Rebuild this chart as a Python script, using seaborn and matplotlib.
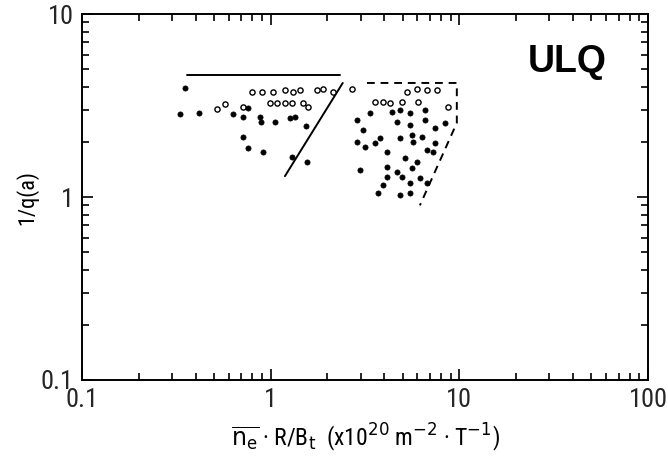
import matplotlib
matplotlib.use("Agg")
import matplotlib.pyplot as plt
import seaborn as sns
import pandas as pd
from matplotlib.ticker import LogLocator, FixedLocator, FixedFormatter, NullFormatter

sns.set_theme(style="white")
FAM = ['Liberation Sans Narrow', 'DejaVu Sans Condensed', 'Roboto Condensed', 'DejaVu Sans']
plt.rcParams['font.family'] = FAM
plt.rcParams['mathtext.fontset'] = 'custom'
plt.rcParams['mathtext.rm'] = 'Liberation Sans Narrow'
plt.rcParams['mathtext.it'] = 'Liberation Sans Narrow'

# open circles
open_x = [0.519, 0.573, 0.796, 0.899, 1.03, 1.19, 1.31, 1.43, 1.76, 1.89, 0.992, 1.08,
          1.19, 1.30, 1.48, 1.58, 0.713, 2.14, 2.70, 5.27, 5.96, 6.73, 7.61, 3.57, 3.94,
          4.29, 4.96, 6.04, 8.70]
open_y = [3.03, 3.22, 3.74, 3.74, 3.74, 3.84, 3.74, 3.84, 3.84, 3.89, 3.26, 3.26,
          3.26, 3.26, 3.26, 3.10, 3.10, 3.74, 3.89, 3.74, 3.89, 3.84, 3.84, 3.30, 3.30,
          3.26, 3.30, 3.30, 3.10]
# filled dots
fill_x = [0.351, 0.330, 0.417, 0.631, 0.758, 0.713, 0.877, 0.888, 1.05, 1.27, 1.34, 1.54,
          0.713, 0.758, 0.91, 1.30, 1.56,
          4.40, 5.47, 4.84, 6.58, 2.87, 3.36, 3.08, 4.67, 5.47, 6.58, 7.43, 8.39,
          2.87, 3.16, 3.57, 3.80, 4.84, 5.61, 5.68, 6.34, 7.43, 4.13, 6.73, 7.24,
          2.97, 4.13, 5.15, 5.96, 4.67, 4.96, 5.61, 6.18, 6.73, 3.94, 3.70, 4.84,
          5.47, 5.47, 4.13]
fill_y = [3.94, 2.84, 2.88, 2.84, 3.07, 2.74, 2.74, 2.57, 2.57, 2.70, 2.74, 2.44,
          2.13, 1.85, 1.76, 1.66, 1.55,
          2.91, 2.88, 2.99, 2.99, 2.64, 2.88, 2.32, 2.57, 2.47, 2.64, 2.38, 2.54,
          2.00, 1.88, 1.97, 2.10, 2.10, 2.18, 2.00, 2.13, 1.97, 1.76, 1.81, 1.76,
          1.41, 1.46, 1.63, 1.55, 1.37, 1.29, 1.44, 1.27, 1.19, 1.16, 1.05, 1.03,
          1.05, 1.19, 1.29]

# boundary lines
solid_top_x = [0.36, 2.33]
solid_top_y = [4.64, 4.64]
solid_diag_x = [1.19, 2.41]
solid_diag_y = [1.30, 4.20]
dash_x = [3.24, 9.7, 9.7, 6.18]
dash_y = [4.20, 4.20, 2.54, 0.90]

x_ticks = [0.1, 1, 10, 100]
x_labels = ["0.1", "1", "10", "100"]
y_ticks = [0.1, 1, 10]
y_labels = ["0.1", "1", "10"]

fig = plt.figure(figsize=(6.68, 4.67), dpi=100)
ax = fig.add_axes([0.1228, 0.1863, 0.8472, 0.7837])

df_open = pd.DataFrame({"x": open_x, "y": open_y})
df_fill = pd.DataFrame({"x": fill_x, "y": fill_y})

sns.scatterplot(data=df_open, x="x", y="y", ax=ax, marker="o", s=14,
                facecolor="white", edgecolor="black", linewidth=1.0, zorder=3)
sns.scatterplot(data=df_fill, x="x", y="y", ax=ax, marker="o", s=14,
                color="black", edgecolor="black", linewidth=0.5, zorder=3)

sns.lineplot(x=solid_top_x, y=solid_top_y, ax=ax, color="black", lw=1.4, sort=False, estimator=None)
sns.lineplot(x=solid_diag_x, y=solid_diag_y, ax=ax, color="black", lw=1.4, sort=False, estimator=None)
sns.lineplot(x=dash_x, y=dash_y, ax=ax, color="black", lw=1.4, sort=False, estimator=None,
             linestyle=(0, (4, 3)))

ax.set_xscale("log")
ax.set_yscale("log")
ax.set_xlim(0.1, 100)
ax.set_ylim(0.1, 10)

ax.xaxis.set_major_locator(FixedLocator(x_ticks))
ax.xaxis.set_major_formatter(FixedFormatter(x_labels))
ax.yaxis.set_major_locator(FixedLocator(y_ticks))
ax.yaxis.set_major_formatter(FixedFormatter(y_labels))
ax.xaxis.set_minor_locator(LogLocator(base=10, subs=range(2, 10)))
ax.yaxis.set_minor_locator(LogLocator(base=10, subs=range(2, 10)))
ax.xaxis.set_minor_formatter(NullFormatter())
ax.yaxis.set_minor_formatter(NullFormatter())

ax.tick_params(which="both", direction="in", top=True, right=True, bottom=True, left=True,
               color="black", width=1.2)
ax.tick_params(which="major", length=8, labelsize=19, pad=6)
ax.tick_params(which="minor", length=5)
for sp in ax.spines.values():
    sp.set_color("black")
    sp.set_linewidth(1.4)

ax.set_xlabel(r"$\overline{\mathrm{n_e}}$ · R/B$_\mathrm{t}$  (x10$^{20}$ m$^{-2}$ · T$^{-1}$)",
              fontsize=17, color="black", labelpad=7)
ax.set_ylabel("1/q(a)", fontsize=16, color="black")
ax.yaxis.set_label_coords(-0.078, 0.5)

ax.text(0.857, 0.869, "ULQ", transform=ax.transAxes, ha="center", va="center",
        fontsize=27, fontweight="bold", family=["Liberation Sans", "DejaVu Sans"], color="black")

fig.savefig("out.png", dpi=100)
